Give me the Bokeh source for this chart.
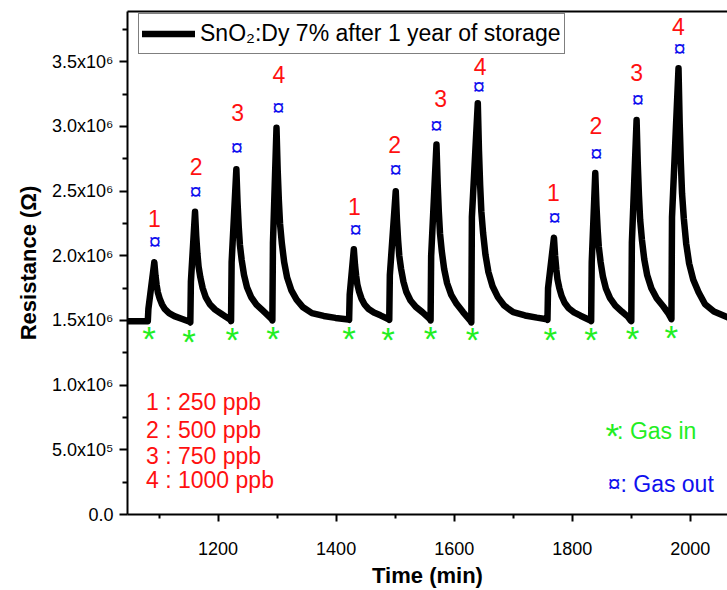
from bokeh.plotting import figure
from bokeh.models import Range1d, FixedTicker, LinearAxis, Legend, LegendItem
from bokeh.core.properties import value
from bokeh.embed import file_html
from bokeh.resources import INLINE

# ---------------- data ----------------
time_min = [
    1046, 1081, 1082, 1092,
    1094, 1096, 1098, 1101, 1105, 1110, 1117, 1126, 1137, 1152,
    1153, 1154, 1161,
    1163, 1165, 1167, 1170, 1174, 1179, 1186, 1195, 1206, 1221,
    1222, 1223, 1231,
    1233, 1235, 1237, 1240, 1244, 1249, 1256, 1265, 1276, 1291,
    1292, 1293, 1299,
    1301, 1303, 1305, 1308, 1312, 1317, 1324, 1333, 1344, 1359, 1379, 1399, 1421,
    1422, 1423, 1430,
    1432, 1434, 1436, 1439, 1443, 1448, 1455, 1464, 1475, 1489,
    1490, 1491, 1501,
    1503, 1505, 1507, 1510, 1514, 1519, 1526, 1535, 1546, 1559,
    1560, 1561, 1570,
    1572, 1574, 1576, 1579, 1583, 1588, 1595, 1604, 1615, 1628,
    1629, 1630, 1640,
    1642, 1644, 1646, 1649, 1653, 1658, 1665, 1674, 1685, 1700, 1720, 1740, 1757,
    1758, 1759, 1769,
    1771, 1773, 1775, 1778, 1782, 1787, 1794, 1803, 1814, 1831,
    1832, 1833, 1839,
    1841, 1843, 1845, 1848, 1852, 1857, 1864, 1873, 1884, 1894, 1899,
    1900, 1901, 1909,
    1911, 1913, 1915, 1918, 1922, 1927, 1934, 1943, 1954, 1962, 1967,
    1968, 1969, 1980,
    1982, 1984, 1986, 1989, 1993, 1998, 2005, 2014, 2025, 2040, 2063,
]
resistance_mohm = [
    1.495, 1.495, 1.59, 1.95,
    1.848, 1.773, 1.718, 1.671, 1.625, 1.587, 1.557, 1.534, 1.515, 1.49,
    1.485, 1.80, 2.34,
    2.154, 2.019, 1.918, 1.833, 1.749, 1.681, 1.626, 1.584, 1.550, 1.505,
    1.495, 1.95, 2.67,
    2.413, 2.225, 2.085, 1.968, 1.851, 1.757, 1.681, 1.623, 1.576, 1.51,
    1.50, 2.10, 2.99,
    2.663, 2.426, 2.248, 2.099, 1.951, 1.832, 1.735, 1.661, 1.602, 1.557, 1.535, 1.520, 1.507,
    1.505, 1.70, 2.05,
    1.930, 1.843, 1.778, 1.723, 1.669, 1.625, 1.589, 1.562, 1.540, 1.51,
    1.505, 1.85, 2.50,
    2.28, 2.12, 2.00, 1.90, 1.80, 1.72, 1.655, 1.605, 1.565, 1.51,
    1.50, 2.00, 2.86,
    2.558, 2.338, 2.173, 2.035, 1.898, 1.788, 1.698, 1.629, 1.565, 1.495,
    1.485, 2.30, 3.18,
    2.812, 2.544, 2.343, 2.175, 2.008, 1.874, 1.765, 1.681, 1.614, 1.564, 1.539, 1.522, 1.51,
    1.505, 1.75, 2.14,
    1.998, 1.895, 1.818, 1.753, 1.689, 1.637, 1.595, 1.563, 1.537, 1.50,
    1.495, 1.95, 2.64,
    2.388, 2.205, 2.068, 1.953, 1.839, 1.747, 1.673, 1.615, 1.569, 1.53, 1.50,
    1.495, 2.10, 3.05,
    2.711, 2.465, 2.28, 2.126, 1.972, 1.849, 1.749, 1.672, 1.61, 1.56, 1.52,
    1.51, 2.30, 3.45,
    3.024, 2.715, 2.483, 2.289, 2.096, 1.941, 1.815, 1.718, 1.625, 1.57, 1.525,
]
resistance = [r * 1e6 for r in resistance_mohm]

gas_in_time = [1083, 1151, 1224, 1293, 1422, 1488, 1560, 1631, 1763, 1832, 1902, 1968]
gas_in_res = [1.40e6, 1.38e6, 1.39e6, 1.40e6, 1.40e6, 1.39e6, 1.40e6, 1.39e6, 1.39e6, 1.39e6, 1.40e6, 1.41e6]

gas_out_time = [1093, 1162, 1232, 1302, 1433, 1501, 1570, 1642, 1770, 1841, 1911, 1982]
gas_out_res = [2.11e6, 2.50e6, 2.84e6, 3.15e6, 2.20e6, 2.67e6, 3.01e6, 3.31e6, 2.30e6, 2.79e6, 3.21e6, 3.60e6]

step_label_time = [1092, 1163, 1233, 1303, 1431, 1499, 1577, 1644, 1768, 1840, 1909, 1980]
step_label_res = [2.29e6, 2.69e6, 3.11e6, 3.40e6, 2.38e6, 2.86e6, 3.22e6, 3.46e6, 2.49e6, 3.01e6, 3.42e6, 3.77e6]
step_labels = ["1", "2", "3", "4", "1", "2", "3", "4", "1", "2", "3", "4"]

conc_text = ["1 : 250 ppb", "2 : 500 ppb", "3 : 750 ppb", "4 : 1000 ppb"]
conc_text_time = [1078, 1078, 1078, 1078]
conc_text_res = [0.868e6, 0.657e6, 0.456e6, 0.263e6]

x_ticks = [1200, 1400, 1600, 1800, 2000]
x_minor = [1100, 1300, 1500, 1700, 1900]
y_ticks = [0, 500000, 1000000, 1500000, 2000000, 2500000, 3000000, 3500000]
y_tick_labels = ["0.0", "5.0x10\u2075", "1.0x10\u2076", "1.5x10\u2076", "2.0x10\u2076",
                 "2.5x10\u2076", "3.0x10\u2076", "3.5x10\u2076"]
y_minor = [250000, 750000, 1250000, 1750000, 2250000, 2750000, 3250000, 3750000]

series_label = "SnO\u2082:Dy 7% after 1 year of storage"

FONT = "Liberation Sans"

p = figure(width=727, height=590, output_backend="svg", toolbar_location=None,
           x_range=Range1d(1046.6, 2063), y_range=Range1d(0, 3.889e6),
           min_border_left=127, min_border_right=0, min_border_top=11, min_border_bottom=76)
p.background_fill_color = "white"
p.border_fill_color = "white"
p.outline_line_color = None
p.xgrid.visible = False
p.ygrid.visible = False

r = p.line(time_min, resistance, line_color="black", line_width=6.5,
           line_join="round", line_cap="round")

# gas in markers
p.text(gas_in_time, gas_in_res, text=["*"] * len(gas_in_time), text_color="#22ee22",
       text_font=value(FONT), text_font_size="35px", text_align="center",
       text_baseline="middle", y_offset=5)
# gas out markers
p.text(gas_out_time, gas_out_res, text=["\u00a4"] * len(gas_out_time), text_color="#1010ee",
       text_font=value(FONT), text_font_size="22px", text_align="center",
       text_baseline="middle")
# concentration numbers
p.text(step_label_time, step_label_res, text=step_labels, text_color="#ff1010",
       text_font=value(FONT), text_font_size="23px", text_align="center",
       text_baseline="middle")
# concentration key
p.text(conc_text_time, conc_text_res, text=conc_text, text_color="#ff1010",
       text_font=value(FONT), text_font_size="23px", text_align="left",
       text_baseline="middle")
# gas in / out key
p.text([1868], [0.649e6], text=["*"], text_color="#22ee22", text_font=value(FONT),
       text_font_size="35px", text_align="center", text_baseline="middle", y_offset=5)
p.text([1876], [0.649e6], text=[": Gas in"], text_color="#22ee22", text_font=value(FONT),
       text_font_size="23px", text_align="left", text_baseline="middle")
p.text([1860], [0.237e6], text=["\u00a4: Gas out"], text_color="#1010ee", text_font=value(FONT),
       text_font_size="23px", text_align="left", text_baseline="middle")

# axes
for ax in (p.xaxis[0], p.yaxis[0]):
    ax.axis_line_width = 2
    ax.major_tick_line_width = 2
    ax.minor_tick_line_width = 2
    ax.major_tick_in = 0
    ax.minor_tick_in = 0
    ax.major_label_text_font = FONT
    ax.major_label_text_font_size = "18px"
    ax.major_label_text_color = "black"
    ax.axis_label_text_font = FONT
    ax.axis_label_text_font_style = "bold"
    ax.axis_label_text_font_size = "22px"
    ax.axis_label_text_color = "black"

p.xaxis.ticker = FixedTicker(ticks=x_ticks, minor_ticks=x_minor)
p.xaxis.major_tick_out = 7
p.xaxis.minor_tick_out = 4
p.xaxis.major_label_standoff = 20
p.xaxis.axis_label = "Time (min)"
p.xaxis.axis_label_standoff = 5

p.yaxis.ticker = FixedTicker(ticks=y_ticks, minor_ticks=y_minor)
p.yaxis.major_label_overrides = {t: l for t, l in zip(y_ticks, y_tick_labels)}
p.yaxis.major_tick_out = 8
p.yaxis.minor_tick_out = 5
p.yaxis.major_label_standoff = 6
p.yaxis.axis_label = "Resistance (\u03a9)"
p.yaxis.axis_label_standoff = 8

top = LinearAxis(ticker=FixedTicker(ticks=[]), axis_line_width=2,
                 major_tick_out=0, minor_tick_out=0, major_tick_in=0, minor_tick_in=0,
                 major_label_standoff=0, major_label_text_font_size="0px")
p.add_layout(top, "above")

legend = Legend(items=[LegendItem(label=series_label, renderers=[r])],
                location=(11, 460), label_text_font=FONT, label_text_font_size="23px",
                label_text_color="black", glyph_width=53, glyph_height=33, label_height=33,
                label_standoff=5, padding=3, border_line_color="black", border_line_width=1.5,
                background_fill_color="white", background_fill_alpha=1)
p.add_layout(legend)

open("out.html", "w").write(file_html(p, INLINE))
